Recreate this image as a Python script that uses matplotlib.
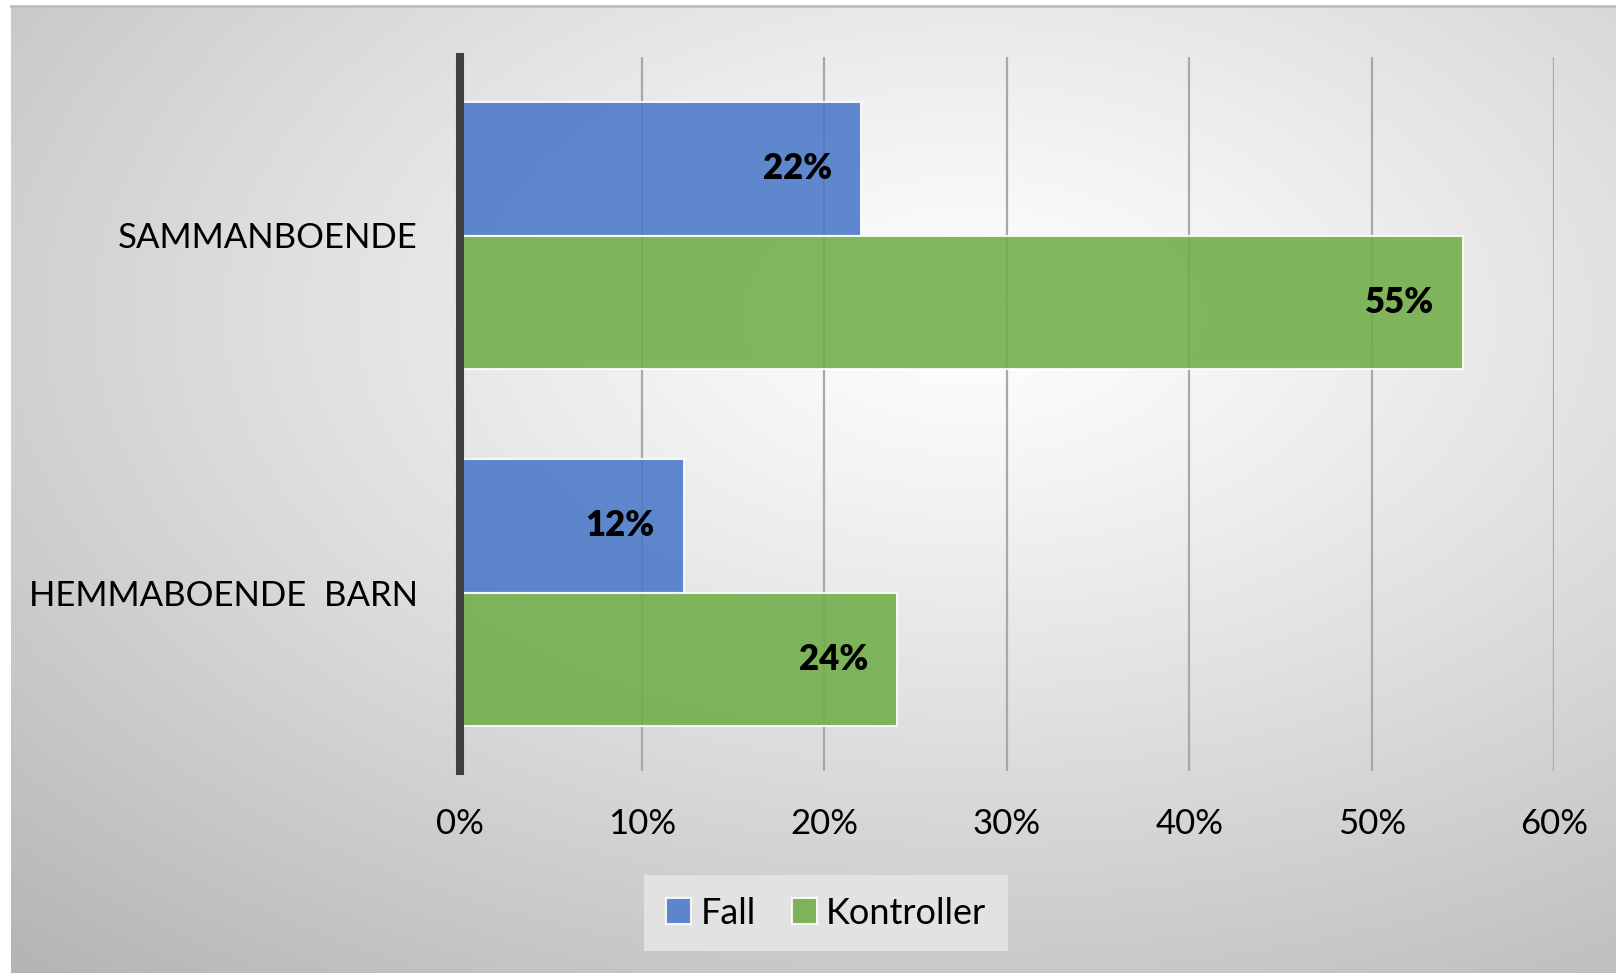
import numpy as np
import matplotlib
matplotlib.use("Agg")
import matplotlib.pyplot as plt

plt.rcParams["font.family"] = ["Lato", "DejaVu Sans"]

# Data
categories = ["SAMMANBOENDE", "HEMMABOENDE  BARN"]
fall = [22.0, 12.3]
kontroller = [55.0, 24.0]
fall_labels = ["22%", "12%"]
kontroller_labels = ["55%", "24%"]
xticks = [0, 10, 20, 30, 40, 50, 60]

W, H = 1616, 973
fig = plt.figure(figsize=(W / 100, H / 100), dpi=100)
fig.patch.set_facecolor("white")

# Radial gradient background
bg = fig.add_axes([11 / W, 0, 1 - 11 / W, 1 - 6 / H], zorder=-10)
gx, gy = np.meshgrid(np.linspace(0, 1, 800), np.linspace(0, 1, 480))
r = np.sqrt((gx - 0.6) ** 2 + (gy - 0.32) ** 2)
shade = 1 - 0.33 * r ** 1.15
img = np.dstack([shade, shade, shade])
bg.imshow(img, aspect="auto", extent=[0, 1, 1, 0], interpolation="bilinear")
bg.set_axis_off()
fig.add_artist(plt.Line2D([11 / W, 1], [1 - 6 / H, 1 - 6 / H],
                          transform=fig.transFigure, color="#bdbdbd", lw=2))

# Main axes
x0, x1 = 459.6, 1554
y0, y1 = 57, 771
ax = fig.add_axes([x0 / W, 1 - y1 / H, (x1 - x0) / W, (y1 - y0) / H])
ax.set_facecolor("none")

ypos = np.arange(len(categories))
h = 0.375
blue = "#4a78c8"
green = "#70ad47"
b1 = ax.barh(ypos - h / 2, fall, height=h, color=blue, alpha=0.88,
             edgecolor=(1, 1, 1, 0.6), linewidth=1.5, label="Fall", zorder=2)
b2 = ax.barh(ypos + h / 2, kontroller, height=h, color=green, alpha=0.88,
             edgecolor=(1, 1, 1, 0.6), linewidth=1.5, label="Kontroller", zorder=2)

for bars, labs in [(b1, fall_labels), (b2, kontroller_labels)]:
    for bar, lab in zip(bars, labs):
        ax.annotate(lab, (bar.get_width(), bar.get_y() + bar.get_height() / 2),
                    xytext=(-21, 0), textcoords="offset points",
                    ha="right", va="center", fontsize=25, fontweight="heavy",
                    color="black", zorder=3)

ax.set_xlim(0, 60)
ax.set_ylim(1.5, -0.5)
ax.set_xticks(xticks)
ax.set_xticklabels([f"{v}%" for v in xticks])
ax.set_yticks(ypos)
ax.set_yticklabels(categories)
ax.tick_params(axis="both", length=0, labelsize=25, colors="black")
ax.tick_params(axis="x", pad=27)
ax.tick_params(axis="y", pad=30)

ax.grid(axis="x", color="#a8a8a8", linewidth=1.6)
ax.grid(axis="y", visible=False)
ax.set_axisbelow(True)

for s in ["top", "right", "bottom"]:
    ax.spines[s].set_visible(False)
ax.spines["left"].set_color("#404040")
ax.spines["left"].set_linewidth(5.8)
ax.spines["left"].set_zorder(4)

leg = ax.legend(loc="center", bbox_to_anchor=(826 / W, 1 - 913 / H),
                bbox_transform=fig.transFigure, ncol=2, fontsize=26,
                frameon=True, fancybox=False, facecolor="#e2e2e2",
                edgecolor="none", framealpha=1, handlelength=0.7,
                handleheight=0.7, handletextpad=0.25, columnspacing=1.0,
                borderpad=0.6, borderaxespad=0)

fig.savefig("out.png", dpi=100)
